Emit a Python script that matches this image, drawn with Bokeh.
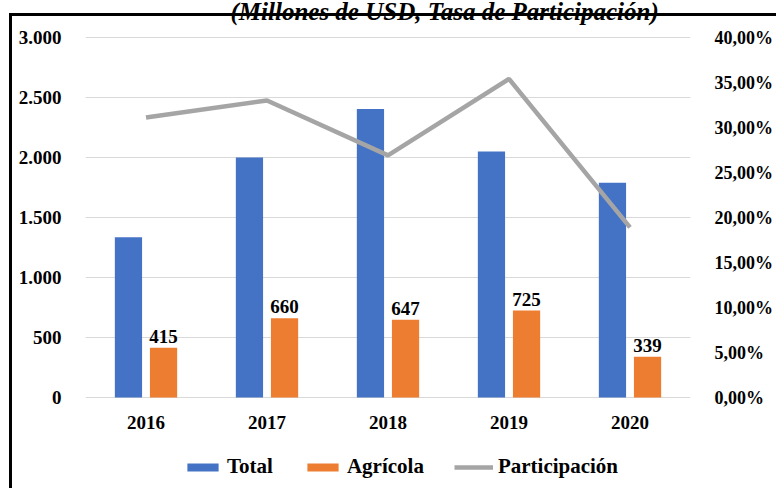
from bokeh.plotting import figure
from bokeh.models import (ColumnDataSource, FactorRange, Range1d, LinearAxis, FixedTicker,
                          CustomJSTickFormatter, Legend, LegendItem, LabelSet, Label)
from bokeh.transform import dodge
from bokeh.core.properties import value
from bokeh.embed import file_html
from bokeh.resources import INLINE

years = ["2016", "2017", "2018", "2019", "2020"]
total = [1335, 2000, 2405, 2050, 1790]
agricola = [415, 660, 647, 725, 339]
participacion = [31.1, 33.0, 26.9, 35.4, 18.9]

left_ticks = [0, 500, 1000, 1500, 2000, 2500, 3000]
left_tick_labels = ["0", "500", "1.000", "1.500", "2.000", "2.500", "3.000"]
right_ticks = [0, 5, 10, 15, 20, 25, 30, 35, 40]
right_tick_labels = ["0,00%", "5,00%", "10,00%", "15,00%", "20,00%", "25,00%",
                     "30,00%", "35,00%", "40,00%"]
series_names = ["Total", "Agrícola", "Participación"]
title_text = "(Millones de USD, Tasa de Participación)"

FONT = "Liberation Serif"
BLUE, ORANGE, GRAY = "#4472C4", "#ED7D31", "#A5A5A5"

W, H = 776, 488
TOP_PX, ZERO_PX = 37, 397            # pixel rows of 3.000 and 0
PX_PER_UNIT = (ZERO_PX - TOP_PX) / 3000
PX_PER_PCT = (ZERO_PX - TOP_PX) / 40
y_lo = -(H - ZERO_PX) / PX_PER_UNIT
y_hi = 3000 + TOP_PX / PX_PER_UNIT
p_lo = -(H - ZERO_PX) / PX_PER_PCT
p_hi = 40 + TOP_PX / PX_PER_PCT
year_label_y = -(422 - ZERO_PX) / PX_PER_UNIT

src = ColumnDataSource(dict(year=years, total=total, agri=agricola, part=participacion,
                            agri_lbl=[str(v) for v in agricola],
                            ylab=[year_label_y] * len(years)))

p = figure(x_range=FactorRange(*years), y_range=Range1d(y_lo, y_hi),
           width=W, height=H, output_backend="svg", toolbar_location=None,
           x_axis_location=None,
           min_border_left=85, min_border_right=86, min_border_top=0, min_border_bottom=0)
p.extra_y_ranges = {"pct": Range1d(p_lo, p_hi)}
p.x_range.range_padding = 0
p.outline_line_color = None
p.background_fill_alpha = 0
p.border_fill_alpha = 0
p.styles = {
    "background": ("linear-gradient(#000,#000) 9px 13px / 3px 500px no-repeat, "
                   "linear-gradient(#000,#000) 9px 13px / 800px 3px no-repeat, #fff"),
}

b_total = p.vbar(x=dodge("year", -0.145, range=p.x_range), top="total", bottom=0,
                 width=0.225, source=src, color=BLUE, line_color=None)
b_agri = p.vbar(x=dodge("year", 0.145, range=p.x_range), top="agri", bottom=0,
                width=0.225, source=src, color=ORANGE, line_color=None)
ln = p.line(x="year", y="part", source=src, y_range_name="pct", line_color=GRAY,
            line_width=4.5)

p.add_layout(LabelSet(x=dodge("year", 0.145, range=p.x_range), y="agri", text="agri_lbl",
                      source=src, text_align="center", text_baseline="bottom", y_offset=5,
                      text_font=value(FONT), text_font_style="bold", text_font_size="19px",
                      text_color="black"))
# category labels under the bars
p.add_layout(LabelSet(x="year", y="ylab", text="year", source=src,
                      text_align="center", text_baseline="middle",
                      text_font=value(FONT), text_font_style="bold", text_font_size="19px",
                      text_color="black"))

# axes
JS = "const i = tk.indexOf(tick); return i >= 0 ? lb[i] : '';"
fmt_left = CustomJSTickFormatter(args=dict(tk=left_ticks, lb=left_tick_labels), code=JS)
fmt_right = CustomJSTickFormatter(args=dict(tk=right_ticks, lb=right_tick_labels), code=JS)
yax = p.yaxis[0]
yax.ticker = FixedTicker(ticks=left_ticks)
yax.formatter = fmt_left
ax_r = LinearAxis(y_range_name="pct", ticker=FixedTicker(ticks=right_ticks), formatter=fmt_right)
p.add_layout(ax_r, "right")

for ax in [yax, ax_r]:
    ax.axis_line_color = None
    ax.major_tick_line_color = None
    ax.minor_tick_line_color = None
    ax.major_label_text_font = FONT
    ax.major_label_text_font_style = "bold"
    ax.major_label_text_color = "black"
yax.major_label_text_font_size = "19px"
ax_r.major_label_text_font_size = "18px"
yax.major_label_standoff = 18
ax_r.major_label_standoff = 18

p.xgrid.visible = False
p.ygrid.ticker = FixedTicker(ticks=left_ticks)
p.ygrid.grid_line_color = "#D9D9D9"
p.ygrid.grid_line_width = 1

legend = Legend(items=[LegendItem(label=series_names[0], renderers=[b_total]),
                       LegendItem(label=series_names[1], renderers=[b_agri]),
                       LegendItem(label=series_names[2], renderers=[ln])],
                orientation="horizontal", location=(98, 9),
                glyph_width=39, glyph_height=10, label_standoff=5, spacing=30,
                padding=0, margin=0, border_line_color=None, background_fill_alpha=0,
                label_text_font=FONT, label_text_font_style="bold",
                label_text_font_size="21px", label_text_color="black")
p.add_layout(legend, "center")

# title, cut off at the top edge as in the source
p.add_layout(Label(x=145, y=H - 11, x_units="screen", y_units="screen", text=title_text,
                   text_align="left", text_baseline="alphabetic",
                   text_font=FONT, text_font_style="bold italic",
                   text_font_size="25px", text_color="black"))

open("out.html", "w").write(file_html(p, INLINE))
